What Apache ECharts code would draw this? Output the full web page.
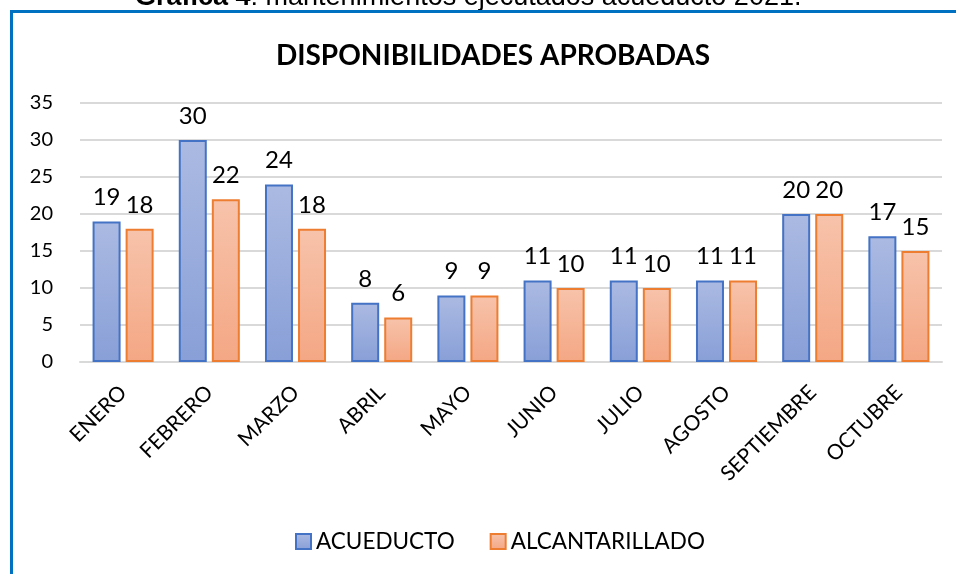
<!DOCTYPE html>
<html>
<head>
<meta charset="utf-8">
<script src="https://cdn.jsdelivr.net/npm/echarts@6/dist/echarts.min.js"></script>
<style>
  html, body { margin: 0; padding: 0; background: #fff; }
  #chart { width: 956px; height: 574px; }
</style>
</head>
<body>
<div id="chart"></div>
<script>
// datos
const meses = ['ENERO', 'FEBRERO', 'MARZO', 'ABRIL', 'MAYO', 'JUNIO', 'JULIO', 'AGOSTO', 'SEPTIEMBRE', 'OCTUBRE'];
const acueducto = [19, 30, 24, 8, 9, 11, 11, 11, 20, 17];
const alcantarillado = [18, 22, 18, 6, 9, 10, 10, 11, 20, 15];
const yTicks = [0, 5, 10, 15, 20, 25, 30, 35];

const FONT = 'Lato, "Open Sans", sans-serif';
const ARIAL = '"Liberation Sans", Arial, sans-serif';

const grad = (top, bottom) => new echarts.graphic.LinearGradient(0, 0, 0, 1, [
  { offset: 0, color: top },
  { offset: 1, color: bottom }
]);

const chart = echarts.init(document.getElementById('chart'));

chart.setOption({
  animation: false,
  textStyle: { fontFamily: FONT },
  title: {
    text: 'DISPONIBILIDADES APROBADAS',
    left: 488,
    textAlign: 'center',
    top: 37,
    textStyle: { fontFamily: FONT, fontSize: 28, fontWeight: 'bold', color: '#000' }
  },
  graphic: [
    // marco azul (arriba e izquierda)
    { type: 'line', shape: { x1: 10, y1: 11.5, x2: 956, y2: 11.5 }, style: { stroke: '#0070c0', lineWidth: 3 } },
    { type: 'line', shape: { x1: 11.5, y1: 10, x2: 11.5, y2: 574 }, style: { stroke: '#0070c0', lineWidth: 3 } },
    // leyenda del documento, cortada arriba
    {
      type: 'text',
      left: 135,
      top: -16,
      z: -1,
      style: {
        text: '{b|Gráfica 4}{n|: mantenimientos ejecutados acueducto 2021.}',
        rich: {
          b: { fontFamily: ARIAL, fontSize: 27, fontWeight: 'bold', fill: '#000' },
          n: { fontFamily: ARIAL, fontSize: 27, fill: '#000' }
        }
      }
    }
  ],
  legend: {
    bottom: 16,
    left: 290,
    itemWidth: 15,
    itemHeight: 15,
    itemGap: 35,
    icon: 'rect',
    textStyle: { fontFamily: FONT, fontSize: 22.5, color: '#000' },
    data: ['ACUEDUCTO', 'ALCANTARILLADO']
  },
  grid: { left: 80, right: 14, top: 103, bottom: 212, containLabel: false },
  xAxis: {
    type: 'category',
    data: meses,
    axisLine: { lineStyle: { color: '#d9d9d9', width: 2 } },
    axisTick: { show: false },
    axisLabel: { rotate: 45, interval: 0, margin: 27, fontSize: 21, color: '#000', fontFamily: FONT }
  },
  yAxis: {
    type: 'value',
    min: yTicks[0],
    max: yTicks[yTicks.length - 1],
    interval: 5,
    axisLine: { show: false },
    axisTick: { show: false },
    splitLine: { lineStyle: { color: '#d9d9d9', width: 2 } },
    axisLabel: { margin: 27, fontSize: 20, color: '#000', fontFamily: FONT }
  },
  series: [
    {
      name: 'ACUEDUCTO',
      type: 'bar',
      data: acueducto,
      barWidth: 28,
      barGap: '18%',
      itemStyle: { color: grad('#abbae2', '#889fd7'), borderColor: '#4472c4', borderWidth: 2 },
      label: { show: true, position: 'top', distance: 12, fontSize: 24, color: '#000', fontFamily: FONT }
    },
    {
      name: 'ALCANTARILLADO',
      type: 'bar',
      data: alcantarillado,
      barWidth: 28,
      itemStyle: { color: grad('#f7c3ab', '#f4a784'), borderColor: '#ed7d31', borderWidth: 2 },
      label: { show: true, position: 'top', distance: 12, fontSize: 24, color: '#000', fontFamily: FONT }
    }
  ]
});
</script>
</body>
</html>
